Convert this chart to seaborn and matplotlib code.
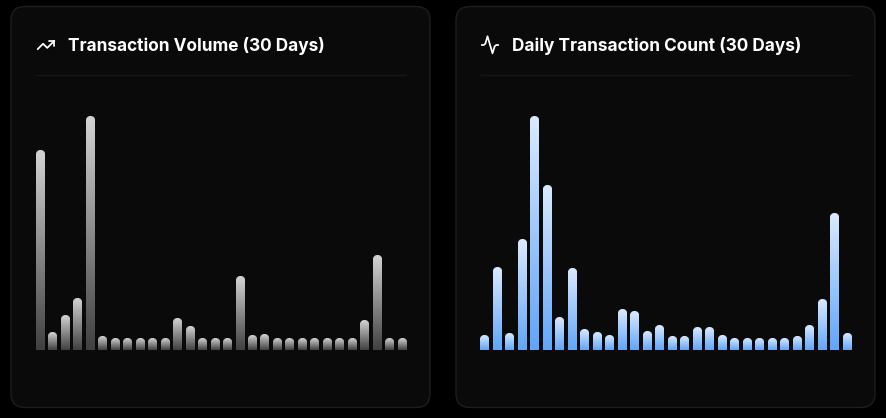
import matplotlib
matplotlib.use("Agg")
import matplotlib.pyplot as plt
import numpy as np
import pandas as pd
import seaborn as sns
from matplotlib.colors import LinearSegmentedColormap
from matplotlib.patches import FancyBboxPatch

days = list(range(1, 31))
volume = [200, 18, 35, 52, 234, 14, 12, 12, 12, 12, 12, 32, 24, 12, 12,
          12, 73, 15, 16, 12, 12, 12, 12, 12, 12, 12, 30, 94, 12, 12]
count = [15, 82, 17, 110, 234, 165, 33, 81, 21, 18, 15, 41, 39, 19, 25,
         14, 14, 23, 23, 15, 12, 12, 12, 12, 12, 14, 25, 51, 137, 17]
titles = ["Transaction Volume (30 Days)", "Daily Transaction Count (30 Days)"]

W, H = 886, 418
sns.set_theme(style="dark")
plt.rcParams["font.family"] = ["Inter", "DejaVu Sans"]

fig = plt.figure(figsize=(W / 100, H / 100), dpi=100, facecolor="#000000")
bg = fig.add_axes([0, 0, 1, 1], zorder=0)
bg.set_xlim(0, W)
bg.set_ylim(H, 0)
bg.axis("off")

PANELS = [
    dict(card=11, x0=36, x1=406, values=volume, title=titles[0],
         cmap=LinearSegmentedColormap.from_list("g", ["#d4d4d4", "#404040"])),
    dict(card=456, x0=480, x1=851, values=count, title=titles[1],
         cmap=LinearSegmentedColormap.from_list("b", ["#dbeafe", "#60a5fa"])),
]
TOP, BASE = 116, 350
RADIUS = 4.0
BAR_W = 8.4
SS = 6  # supersampling of each bar image


def icon(points, ox, oy, size=20):
    k = size / 24
    p = np.array(points, float)
    bg.plot(ox + p[:, 0] * k, oy + p[:, 1] * k, color="white", lw=1.25,
            solid_capstyle="round", solid_joinstyle="round")


def bar_image(cmap, w_px, h_px):
    """RGBA gradient with a rounded top; alpha carries the bar's shape."""
    nx, ny = max(int(round(w_px * SS)), 2), max(int(round(h_px * SS)), 2)
    xs = (np.arange(nx) + 0.5) / SS
    ys = (np.arange(ny) + 0.5) / SS  # measured down from the bar's top
    xx, yy = np.meshgrid(xs, ys)
    rgba = cmap(yy / h_px)
    dx = np.maximum(np.maximum(RADIUS - xx, xx - (w_px - RADIUS)), 0)
    dy = np.maximum(RADIUS - yy, 0)
    rgba[..., 3] = (dx ** 2 + dy ** 2 <= RADIUS ** 2).astype(float)
    return rgba


for p in PANELS:
    bg.add_patch(FancyBboxPatch((p["card"] + 14, 6.5 + 14), 419 - 28, 401 - 28,
                                boxstyle="round,pad=14,rounding_size=14",
                                fc="#0a0a0a", ec="#1e1e1e", lw=1.0))
    bg.plot([p["x0"], p["x1"]], [75, 75], color="#161616", lw=1.0)
    bg.text(p["x0"] + 32, 46, p["title"], color="white", fontsize=12.4,
            fontweight="bold", va="center", ha="left")

    ax = fig.add_axes([p["x0"] / W, 1 - BASE / H, (p["x1"] - p["x0"]) / W,
                       (BASE - TOP) / H], zorder=1)
    pitch = (p["x1"] - p["x0"] - BAR_W) / 29
    frac = BAR_W / pitch
    df = pd.DataFrame({"day": days, "value": p["values"]})
    sns.barplot(data=df, x="day", y="value", ax=ax, width=frac, color="white")
    xlim = (-frac / 2, 29 + frac / 2)
    ax.set_xlim(*xlim)
    ax.set_ylim(0, max(p["values"]))
    ax.axis("off")
    ax.patch.set_alpha(0)
    for bar in list(ax.patches):
        x, w, h = bar.get_x(), bar.get_width(), bar.get_height()
        ax.imshow(bar_image(p["cmap"], BAR_W, h), extent=[x, x + w, 0, h],
                  aspect="auto", origin="upper", zorder=2,
                  interpolation="hanning", interpolation_stage="rgba",
                  clip_on=False)
        bar.set_visible(False)
    ax.set_xlim(*xlim)
    ax.set_ylim(0, max(p["values"]))

icon([(2, 17), (8.5, 10.5), (13.5, 15.5), (22, 7)], 36, 35)
icon([(16, 7), (22, 7), (22, 13)], 36, 35)
icon([(2, 12), (4.5, 12), (6.4, 10.5), (9, 1.5), (15, 22), (17.6, 13.5),
      (19.5, 12), (22, 12)], 480, 35)
bg.set_xlim(0, W)
bg.set_ylim(H, 0)

fig.savefig("out.png", dpi=100, facecolor=fig.get_facecolor())
